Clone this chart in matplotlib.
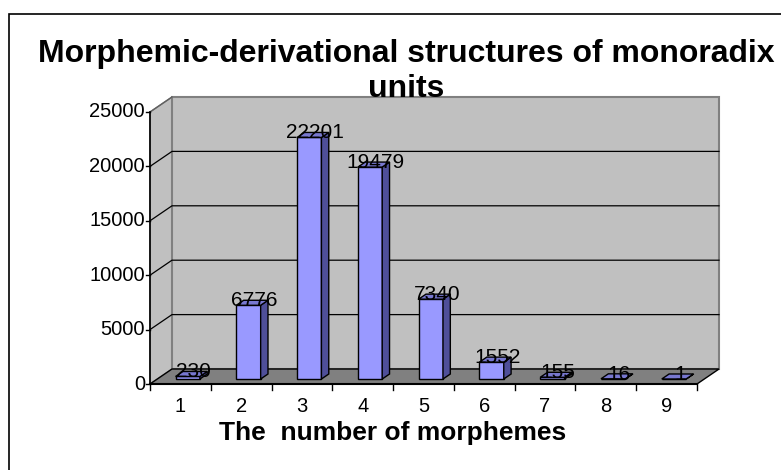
import matplotlib
matplotlib.use("Agg")
import matplotlib.pyplot as plt
from matplotlib.patches import Polygon, Rectangle

plt.rcParams['font.family'] = ['Liberation Sans', 'DejaVu Sans']

categories = ['1', '2', '3', '4', '5', '6', '7', '8', '9']
values = [230, 6776, 22201, 19479, 7340, 1552, 155, 16, 1]
yticks = [0, 5000, 10000, 15000, 20000, 25000]
title = "Morphemic-derivational structures of monoradix\nunits"
xlabel = "The  number of morphemes"

W, H = 781, 470
fig = plt.figure(figsize=(W / 100, H / 100), dpi=100)

# outer chart border (clipped at right/bottom)
fig.patches.append(Rectangle((9 / W, -0.1), 1.1, (H - 14) / H + 0.1, transform=fig.transFigure,
                             fill=False, edgecolor='black', linewidth=1.2))

n = len(categories)
ymax = yticks[-1]
# pixel geometry of the front plane
px_left, px_right = 150, 697
py_bottom, py_top = 384, 112
dpx, dpy = 22, 15  # depth offset in pixels
xunit = n / (px_right - px_left)
yunit = ymax / (py_bottom - py_top)
DX = dpx * xunit
DY = dpy * yunit

ax = fig.add_axes([px_left / W, (H - py_bottom) / H,
                   (px_right - px_left + dpx) / W, (py_bottom - py_top + dpy) / H])
ax.set_xlim(0, n + DX)
ax.set_ylim(0, ymax + DY)
ax.axis('off')

wall = '#C0C0C0'
edge = '#808080'
# side wall
ax.add_patch(Polygon([(0, 0), (0, ymax), (DX, ymax + DY), (DX, DY)], closed=True,
                     facecolor=wall, edgecolor=edge, linewidth=1, clip_on=False))
# back wall
ax.add_patch(Rectangle((DX, DY), n, ymax, facecolor=wall, edgecolor=edge, linewidth=1.5, clip_on=False))
# floor
ax.add_patch(Polygon([(0, 0), (n, 0), (n + DX, DY), (DX, DY)], closed=True,
                     facecolor='#808080', edgecolor='black', linewidth=1, clip_on=False))

# gridlines
for v in yticks[1:-1]:
    ax.plot([0, DX, n + DX], [v, v + DY, v + DY], color='black', linewidth=0.9, clip_on=False)
ax.plot([0, DX], [ymax, ymax + DY], color='#606060', linewidth=1, clip_on=False)

# axes lines
ax.plot([0, 0], [0, ymax], color='black', linewidth=1.2, clip_on=False)
ax.plot([0, n], [0, 0], color='black', linewidth=1.5, clip_on=False)
for v in yticks:
    ax.plot([-4 * xunit, 0], [v, v], color='black', linewidth=1, clip_on=False)
    ax.text(-5 * xunit, v, f"{v}", ha='right', va='center', fontsize=14.5, clip_on=False)
for i in range(n + 1):
    ax.plot([i, i], [0, -6 * yunit], color='black', linewidth=1, clip_on=False)
for i, c in enumerate(categories):
    ax.text(i + 0.5, -23 * yunit, c, ha='center', va='center', fontsize=14.5, clip_on=False)

# bars
bw = 0.4
f0, f1 = 1 / 3, 2 / 3
front = '#9999FF'
side = '#4F4F99'
top = '#7878D0'
centers = [i + 0.5 for i in range(n)]
ax.bar([c + f0 * DX for c in centers], values, width=bw, bottom=f0 * DY,
       color=front, edgecolor='black', linewidth=1, zorder=3)
for c, v in zip(centers, values):
    x0 = c - bw / 2 + f0 * DX
    x1 = c + bw / 2 + f0 * DX
    b0 = f0 * DY
    d = (f1 - f0)
    ax.add_patch(Polygon([(x1, b0), (x1 + d * DX, b0 + d * DY), (x1 + d * DX, b0 + d * DY + v), (x1, b0 + v)],
                         closed=True, facecolor=side, edgecolor='black', linewidth=1, zorder=3))
    ax.add_patch(Polygon([(x0, b0 + v), (x1, b0 + v), (x1 + d * DX, b0 + v + d * DY), (x0 + d * DX, b0 + v + d * DY)],
                         closed=True, facecolor=top, edgecolor='black', linewidth=1, zorder=3))
    ax.text(c + 0.6 * DX, v + f0 * DY - 1 * yunit, f"{v}", ha='center', va='baseline',
            fontsize=15, zorder=4, clip_on=False)

fig.text(406 / W, 1 - 39 / H, title, ha='center', va='top', fontsize=23, fontweight='bold',
         multialignment='center', linespacing=1.2)
fig.text(393 / W, 1 - 433 / H, xlabel, ha='center', va='center', fontsize=19, fontweight='bold')

fig.savefig('out.png', dpi=100)
